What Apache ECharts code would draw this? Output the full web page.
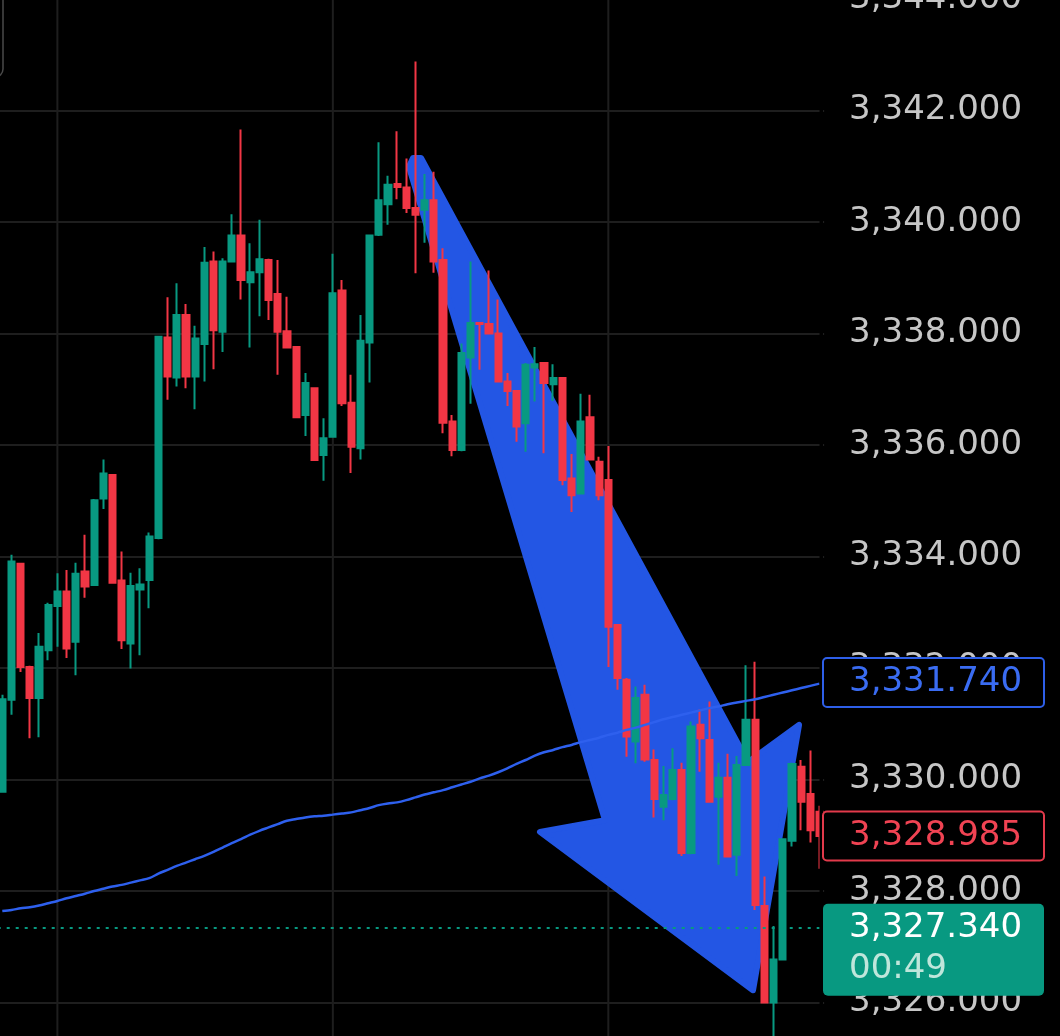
<!DOCTYPE html>
<html><head><meta charset="utf-8">
<script src="https://cdn.jsdelivr.net/npm/echarts@6/dist/echarts.min.js"></script>
<style>html,body{margin:0;padding:0;background:#000;}#c{width:1060px;height:1036px;}</style>
</head><body><div id="c"></div>
<script>
// ---- data ----
const opens = [3329.78,3331.43,3333.87,3332.02,3331.46,3332.32,3333.11,3333.37,3332.47,3333.73,
3333.49,3335.04,3335.46,3333.57,3332.44,3333.41,3333.58,3334.33,3337.93,3337.21,
3338.33,3337.23,3337.81,3339.29,3338.03,3339.29,3339.76,3338.92,3339.10,3339.32,
3338.71,3338.04,3337.76,3336.54,3337.02,3335.82,3336.15,3338.77,3336.76,3335.94,
3337.84,3339.77,3340.32,3340.68,3340.62,3340.25,3340.22,3340.39,3339.32,3336.42,
3335.91,3337.57,3338.19,3338.17,3338.00,3337.14,3336.97,3336.39,3337.39,3337.47,
3337.09,3337.20,3335.40,3335.13,3336.50,3335.70,3335.37,3332.77,3331.79,3330.68,
3331.52,3330.35,3329.51,3329.65,3330.17,3328.68,3330.98,3330.71,3329.69,3330.03,
3328.65,3330.26,3331.07,3327.73,3326.00,3326.77,3328.90,3330.23,3329.74,3329.42];
const closes = [3331.44,3333.91,3332.02,3331.46,3332.38,3333.13,3333.37,3332.35,3333.69,3333.46,
3335.01,3335.49,3333.53,3332.50,3333.47,3333.50,3334.36,3337.94,3337.23,3338.33,
3337.23,3337.91,3339.27,3338.06,3339.29,3339.76,3338.96,3339.10,3339.33,3338.60,
3338.03,3337.75,3336.50,3337.11,3335.73,3336.12,3338.72,3336.75,3335.97,3337.87,
3339.76,3340.39,3340.67,3340.63,3340.25,3340.13,3340.39,3339.29,3336.40,3335.91,
3337.65,3338.19,3338.17,3338.00,3337.14,3336.97,3336.33,3337.44,3337.45,3337.11,
3337.20,3335.37,3335.10,3336.42,3335.74,3335.10,3332.74,3331.82,3330.77,3331.46,
3330.36,3329.65,3329.72,3330.17,3328.68,3330.95,3330.74,3329.60,3330.03,3328.62,
3330.26,3331.07,3327.75,3326.00,3326.77,3328.93,3330.28,3329.60,3329.09,3328.985];
const lows = [3329.77,3331.16,3331.93,3330.74,3330.76,3332.14,3332.38,3332.18,3331.87,3333.26,
3333.47,3334.85,3333.52,3332.34,3331.99,3332.23,3333.07,3334.31,3336.81,3337.05,
3337.02,3336.64,3337.14,3337.36,3337.67,3339.28,3338.61,3337.75,3338.31,3338.24,
3337.26,3337.73,3336.48,3336.16,3335.72,3335.36,3336.14,3336.70,3335.50,3335.74,
3337.12,3339.75,3339.95,3340.41,3340.16,3339.08,3339.63,3339.09,3336.21,3335.80,
3335.89,3336.74,3337.35,3337.99,3337.13,3336.70,3336.06,3335.88,3336.78,3335.85,
3336.79,3335.28,3334.80,3335.12,3335.73,3335.01,3332.02,3331.61,3330.41,3330.29,
3330.32,3329.32,3329.27,3329.63,3328.63,3328.66,3330.14,3329.60,3328.47,3328.60,
3328.27,3330.24,3327.66,3325.99,3325.24,3326.76,3328.80,3329.09,3328.87,3328.40];
const highs = [3331.52,3334.03,3333.88,3332.04,3332.63,3333.17,3333.70,3333.76,3333.89,3334.39,
3335.03,3335.74,3335.48,3334.09,3333.71,3333.79,3334.43,3337.96,3338.65,3338.90,
3338.53,3338.14,3339.55,3339.47,3339.35,3340.14,3341.66,3339.62,3340.04,3339.34,
3339.32,3338.66,3337.77,3337.29,3337.02,3336.48,3339.43,3338.96,3337.26,3338.33,
3339.77,3341.43,3340.83,3341.63,3341.14,3342.88,3340.86,3340.90,3339.53,3336.54,
3337.82,3339.29,3338.20,3339.13,3338.61,3337.29,3336.98,3337.47,3337.76,3337.49,
3337.45,3337.20,3335.84,3336.92,3336.90,3335.79,3335.98,3332.79,3331.82,3331.67,
3331.70,3330.54,3330.24,3330.56,3330.30,3331.04,3331.26,3331.40,3330.30,3330.46,
3330.42,3332.05,3332.11,3328.26,3327.37,3328.93,3330.30,3330.35,3330.52,3329.53];
const maValues = [3327.64,3327.66,3327.69,3327.71,3327.74,3327.78,3327.82,3327.87,3327.91,3327.95,
3328.00,3328.04,3328.08,3328.11,3328.15,3328.19,3328.23,3328.31,3328.38,3328.45,
3328.51,3328.57,3328.63,3328.70,3328.78,3328.86,3328.93,3329.01,3329.08,3329.14,
3329.20,3329.26,3329.29,3329.32,3329.34,3329.35,3329.37,3329.39,3329.41,3329.45,
3329.49,3329.54,3329.57,3329.59,3329.63,3329.68,3329.73,3329.77,3329.81,3329.86,
3329.91,3329.96,3330.02,3330.07,3330.13,3330.20,3330.28,3330.35,3330.43,3330.49,
3330.53,3330.58,3330.62,3330.67,3330.71,3330.75,3330.80,3330.84,3330.89,3330.93,
3330.98,3331.03,3331.08,3331.12,3331.16,3331.20,3331.24,3331.28,3331.31,3331.35,
3331.38,3331.41,3331.44,3331.48,3331.52,3331.56,3331.60,3331.64,3331.68,3331.72];
const categories = opens.map((_, i) => String(i));
const yMin = 3324, yMax = 3346, yStep = 2;
const vGridIdx = [6, 36, 66];
const maLast = 3331.740, refPrice = 3328.985, lastPrice = 3327.340, countdown = '00:49';
// arrow annotation outline in data space [category index, price]
const arrowPoints = [[44.29,3340.99],[44.73,3341.15],[45.60,3341.15],[81.21,3330.31],[86.77,3330.98],
  [81.76,3326.22],[58.56,3329.06],[65.64,3329.27]];

// ---- styles ----
const UP = '#089981', DOWN = '#F23645', GRID = '#1e1e1e';
const FONT = 'DejaVu Sans';
const FS = 34;
function fmt(v){ const s = v.toFixed(3); const p = s.split('.'); return p[0].replace(/\B(?=(\d{3})+(?!\d))/g, ',') + '.' + p[1]; }

const candleData = opens.map((o, i) => [o, closes[i], lows[i], highs[i]]);

const chart = echarts.init(document.getElementById('c'), null, {renderer: 'canvas'});
const option = {
  backgroundColor: '#000',
  animation: false,
  grid: {left: -2.29, right: 235.9, top: -112.5, bottom: -78, containLabel: false, outerBoundsMode: 'none'},
  xAxis: {type: 'category', data: categories, boundaryGap: true,
    axisLine: {show: false}, axisTick: {show: false}, axisLabel: {show: false}, splitLine: {show: false}},
  yAxis: {type: 'value', position: 'right', min: yMin, max: yMax, interval: yStep,
    axisLine: {show: false}, axisTick: {show: false},
    splitLine: {show: true, lineStyle: {color: GRID, width: 2}},
    axisLabel: {color: '#c6c6c6', fontSize: FS, fontFamily: FONT, margin: 25, formatter: fmt}},
  series: [
    {type: 'candlestick', data: candleData, z: 3, barWidth: 6.7,
      itemStyle: {color: UP, color0: DOWN, borderColor: UP, borderColor0: DOWN, borderWidth: 2},
      markLine: {silent: true, symbol: ['none', 'none'], label: {show: false},
        lineStyle: {color: UP, type: [3, 6], width: 2},
        data: [{yAxis: lastPrice}]}},
    {type: 'line', data: maValues, z: 4, symbol: 'none', smooth: 0.3,
      lineStyle: {color: '#2E60EE', width: 2.5}}
  ]
};
chart.setOption(option);

const x0 = chart.convertToPixel({xAxisIndex: 0}, 0);
const x1 = chart.convertToPixel({xAxisIndex: 0}, 1);
const px = i => x0 + (x1 - x0) * i;
const py = v => chart.convertToPixel({yAxisIndex: 0}, v);

const els = [];
vGridIdx.forEach(i => els.push({type: 'line', z: 0, silent: true,
  shape: {x1: px(i), y1: 0, x2: px(i), y2: 1036}, style: {stroke: GRID, lineWidth: 2}}));
els.push({type: 'polygon', z: 1, silent: true,
  shape: {points: arrowPoints.map(p => [px(p[0]), py(p[1])])},
  style: {fill: '#2356E4', stroke: '#2356E4', lineWidth: 6, lineJoin: 'round'}});
// clip strip at plot right edge
const clipX = px(categories.length - 1);
els.push({type: 'rect', z: 6, silent: true, shape: {x: clipX, y: 0, width: 823 - clipX, height: 1036},
  style: {fill: '#000'}});
// top-left UI frame fragment
els.push({type: 'rect', z: 6, silent: true, shape: {x: -40, y: -20, width: 43, height: 97, r: 8},
  style: {fill: 'none', stroke: '#4a4a4a', lineWidth: 1.5}});
// price boxes
const boxX = 823, boxW = 221, textX = 849;
function outlinedBox(v, color, textColor){
  const cy = py(v);
  els.push({type: 'rect', z: 10, silent: true, shape: {x: boxX, y: cy - 24.5, width: boxW, height: 49, r: 4},
    style: {fill: '#000', stroke: color, lineWidth: 2}});
  els.push({type: 'text', z: 11, silent: true,
    style: {text: fmt(v), x: textX, y: cy, fill: textColor, fontSize: FS, fontFamily: FONT, verticalAlign: 'middle', align: 'left'}});
}
outlinedBox(maLast, '#2E5FE8', '#3A6CF2');
outlinedBox(refPrice, '#E23A4B', '#F04353');
const gy = py(lastPrice);
els.push({type: 'rect', z: 10, silent: true, shape: {x: boxX, y: gy - 24, width: boxW, height: 92, r: 5},
  style: {fill: UP}});
els.push({type: 'text', z: 11, silent: true,
  style: {text: fmt(lastPrice), x: textX, y: gy, fill: '#ffffff', fontSize: FS, fontFamily: FONT, verticalAlign: 'middle', align: 'left'}});
els.push({type: 'text', z: 11, silent: true,
  style: {text: countdown, x: textX, y: gy + 41, fill: '#BFE6DB', fontSize: FS, fontFamily: FONT, verticalAlign: 'middle', align: 'left'}});
chart.setOption({graphic: {elements: els}});
</script>
</body></html>
